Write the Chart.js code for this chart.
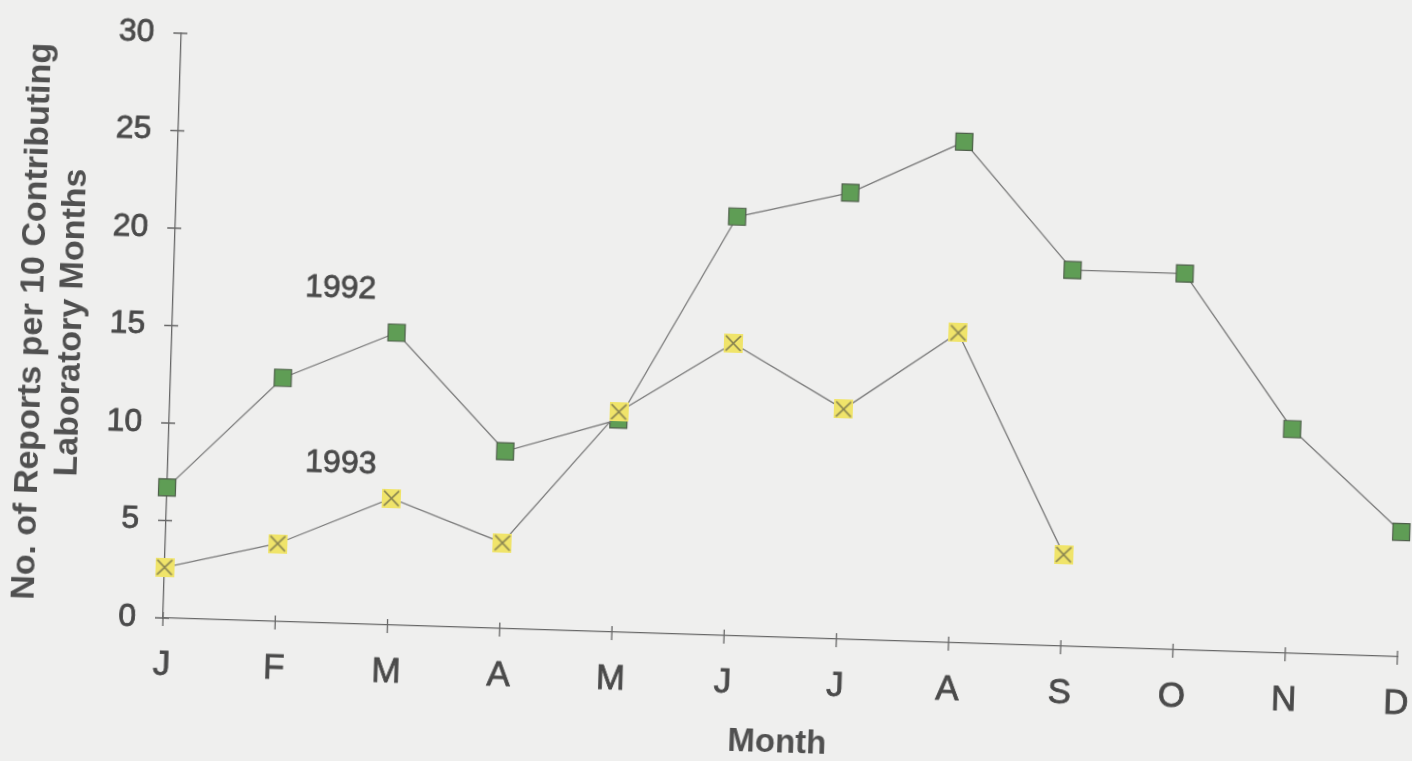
<!DOCTYPE html>
<html>
<head>
<meta charset="utf-8">
<title>Reports per 10 Contributing Laboratory Months, 1992-1993</title>
<script src="https://cdn.jsdelivr.net/npm/chart.js@4.4.1/dist/chart.umd.min.js"></script>
<style>
  html, body { margin: 0; padding: 0; background: #efefee; overflow: hidden; }
  /* the printed figure sits slightly askew on the page */
  #wrap {
    position: absolute; left: 0; top: 0; width: 1412px; height: 761px;
    transform: rotate(1.8deg); transform-origin: 163px 618px;
  }
  canvas { display: block; }
</style>
</head>
<body>
<div id="wrap"><canvas id="chart" width="1412" height="761"></canvas></div>
<script>
// Monthly reports per 10 contributing laboratory months
const months = ['J', 'F', 'M', 'A', 'M', 'J', 'J', 'A', 'S', 'O', 'N', 'D'];
const reports1992 = [6.7, 12.5, 15.0, 9.1, 10.9, 21.5, 22.9, 25.7, 19.3, 19.3, 11.5, 6.4];
const reports1993 = [2.6, 4.0, 6.5, 4.4, 11.3, 15.0, 11.8, 15.9, 4.7, null, null, null];
const yTickValues = [0, 5, 10, 15, 20, 25, 30];
const yearNames = ['1992', '1993'];

const FONT = '"Liberation Sans", Arial, Helvetica, sans-serif';
const AXIS_COLOR = '#676767';
const TEXT_COLOR = '#4a4a4a';

// yellow box with a diagonal cross, used as the 1993 marker
function crossBox(size) {
  const c = document.createElement('canvas');
  c.width = size; c.height = size;
  const g = c.getContext('2d');
  g.fillStyle = '#f0e46a';
  g.fillRect(0, 0, size, size);
  g.strokeStyle = '#807c4f';
  g.lineWidth = 1.6;
  g.beginPath();
  g.moveTo(2, 2); g.lineTo(size - 2, size - 2);
  g.moveTo(size - 2, 2); g.lineTo(2, size - 2);
  g.stroke();
  return c;
}

// tick marks that cross the axis lines
const crossTicks = {
  id: 'crossTicks',
  beforeDatasetsDraw(chart) {
    const { ctx, scales: { x, y }, chartArea } = chart;
    ctx.save();
    ctx.strokeStyle = AXIS_COLOR;
    ctx.lineWidth = 1.3;
    ctx.beginPath();
    x.ticks.forEach((t, i) => {
      const px = x.getPixelForTick(i);
      ctx.moveTo(px, chartArea.bottom - 6);
      ctx.lineTo(px, chartArea.bottom + 8);
    });
    y.ticks.forEach((t, i) => {
      const py = y.getPixelForTick(i);
      ctx.moveTo(chartArea.left - 8, py);
      ctx.lineTo(chartArea.left + 6, py);
    });
    ctx.stroke();
    ctx.restore();
  }
};

// year labels written beside their lines
const yearTags = {
  id: 'yearTags',
  afterDatasetsDraw(chart, args, opts) {
    const { ctx, scales: { x, y } } = chart;
    ctx.save();
    ctx.font = '32px ' + FONT;
    ctx.fillStyle = TEXT_COLOR;
    ctx.strokeStyle = TEXT_COLOR;
    ctx.lineWidth = 0.8;
    ctx.textAlign = 'center';
    ctx.textBaseline = 'middle';
    opts.items.forEach(it => {
      const px = x.getPixelForValue(it.x);
      const py = y.getPixelForValue(it.y);
      ctx.fillText(it.text, px, py);
      ctx.strokeText(it.text, px, py);
    });
    ctx.restore();
  }
};

Chart.defaults.font.family = FONT;

new Chart(document.getElementById('chart'), {
  type: 'line',
  data: {
    labels: months,
    datasets: [
      {
        label: yearNames[1],
        data: reports1993,
        borderColor: '#7a7a7a',
        borderWidth: 1.3,
        pointStyle: crossBox(19),
        pointRadius: 10,
        spanGaps: false,
        clip: false
      },
      {
        label: yearNames[0],
        data: reports1992,
        borderColor: '#7a7a7a',
        borderWidth: 1.3,
        pointStyle: 'rect',
        pointRadius: 12,
        pointBackgroundColor: '#5f9d55',
        pointBorderColor: '#4f5f4b',
        pointBorderWidth: 1.2,
        clip: false
      }
    ]
  },
  options: {
    responsive: false,
    animation: false,
    events: [],
    layout: { padding: { left: 0, top: 33, right: 14, bottom: 0 } },
    plugins: {
      legend: { display: false },
      tooltip: { enabled: false },
      yearTags: {
        items: [
          { text: yearNames[0], x: 1.49, y: 17.15 },
          { text: yearNames[1], x: 1.54, y: 8.18 }
        ]
      }
    },
    scales: {
      x: {
        offset: false,
        grid: { display: false, drawTicks: false },
        border: { display: true, color: AXIS_COLOR, width: 1.3 },
        ticks: {
          color: TEXT_COLOR,
          textStrokeColor: TEXT_COLOR,
          textStrokeWidth: 0.8,
          font: { size: 35 },
          padding: 26,
          maxRotation: 0,
          autoSkip: false
        },
        title: {
          display: true,
          text: 'Month',
          color: '#505050',
          font: { size: 33, weight: 'bold', lineHeight: 1.18 },
          padding: { top: 0, bottom: 18 }
        },
        afterFit(s) {
          s.height = 143;
          s.paddingLeft = 0;
          s.paddingRight = 0;
        }
      },
      y: {
        min: 0,
        max: 30,
        grid: { display: false, drawTicks: false },
        border: { display: true, color: AXIS_COLOR, width: 1.3 },
        afterBuildTicks(s) { s.ticks = yTickValues.map(v => ({ value: v })); },
        ticks: {
          color: TEXT_COLOR,
          textStrokeColor: TEXT_COLOR,
          textStrokeWidth: 0.8,
          font: { size: 32 },
          padding: 27
        },
        title: {
          display: true,
          text: ['No. of Reports per 10 Contributing', 'Laboratory Months'],
          color: '#505050',
          font: { size: 34, weight: 'bold', lineHeight: 1.15 },
          padding: { top: 4, bottom: 0 }
        },
        afterFit(s) {
          s.width = 163;
          s.paddingTop = 0;
          s.paddingBottom = 0;
        }
      }
    }
  },
  plugins: [crossTicks, yearTags]
});
</script>
</body>
</html>
